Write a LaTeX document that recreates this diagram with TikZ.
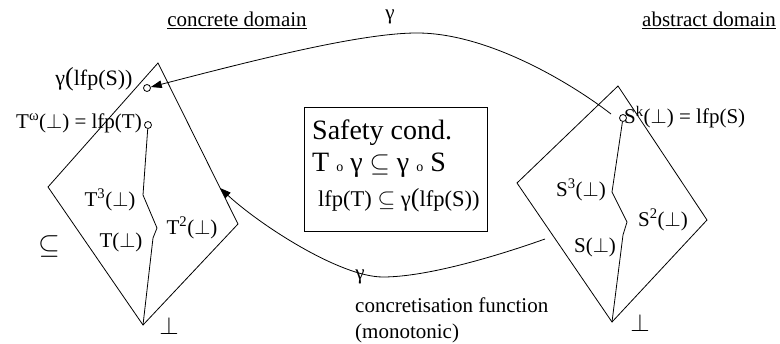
\documentclass[tikz,border=0pt]{standalone}
\usepackage{graphicx}
\usepackage{fontspec}
\setmainfont{Liberation Serif}
\usetikzlibrary{arrows.meta}
\newcommand\smallo{{\fontsize{14}{14}\selectfont o}}
\newcommand\sbe[1]{\scalebox{#1}{$\subseteq$}}
\newcommand\perpb[1]{\scalebox{#1}{$\bot$}}
\begin{document}
\begin{tikzpicture}[x=1pt,y=-1pt,
  lab/.style={font=\fontsize{21}{24}\selectfont, inner sep=0pt},
  big/.style={font=\fontsize{28}{32}\selectfont, inner sep=0pt},
  mid/.style={font=\fontsize{22.5}{26}\selectfont, inner sep=0pt},
  dot/.style={circle,draw,minimum size=7pt,inner sep=0pt,line width=0.8pt},
  ln/.style={line width=0.8pt},
  arr/.style={line width=0.8pt,-{Triangle[length=11pt,width=7.5pt]}}]
\useasboundingbox (0,0) rectangle (780,344);
% left diamond
\coordinate (LT) at (158,63);
\coordinate (LL) at (48,187);
\coordinate (LR) at (238,224);
\coordinate (LB) at (143,325);
\draw[ln] (LT) -- (LR) -- (LB) -- (LL) -- cycle;
\node[dot] (c1) at (147,88) {};
\node[dot] (c2) at (148,125) {};
\coordinate (l1) at (143,195);
\coordinate (l2) at (157,228);
\coordinate (l3) at (153,238);
\draw[ln] (c2) -- (l1) -- (l2) -- (l3) -- (LB);
% right diamond
\coordinate (RT) at (618,86);
\coordinate (RL) at (517,183);
\coordinate (RR) at (707,220);
\coordinate (RB) at (612,322);
\draw[ln] (RT) -- (RR) -- (RB) -- (RL) -- cycle;
\node[dot] (c3) at (623,118) {};
\coordinate (r1) at (612,192);
\coordinate (r2) at (627,222);
\coordinate (r3) at (623,235);
\draw[ln] (c3) -- (r1) -- (r2) -- (r3) -- (RB);
% top gamma arc
\coordinate (ts) at (611,114);
\coordinate (tp) at (417,33);
\draw[arr] (ts) .. controls (575,86) and (490,33) .. (tp)
  .. controls (360,33) and (251,61) .. (c1);
% bottom gamma arc
\coordinate (bs) at (545,239);
\coordinate (bp) at (383,277);
\coordinate (be) at (220,188);
\draw[arr] (bs) .. controls (500,255) and (428,277) .. (bp)
  .. controls (340,277) and (260,225) .. (be);
% safety box
\node[draw,ln,minimum width=183pt,minimum height=124pt,inner sep=0pt] (box) at (395.5,169) {};
\node[big,anchor=base west] (s1) at (312,140) {Safety cond.};
\node[big,anchor=base west] (s2) at (312,172) {T \smallo\ γ \sbe{1.05} γ \smallo\ S};
\node[mid,anchor=base west] (s3) at (318,207) {lfp(T) \sbe{1.1} γ{\fontsize{26}{26}\selectfont(}lfp(S))};
% labels
\node[lab] (conc) at (237,20) {\underline{concrete domain}};
\node[lab] (abs) at (709,20) {\underline{abstract domain}};
\node[lab] (gtop) at (390,17) {γ};
\node[lab] (gbot) at (360,277) {γ};
\node[lab,anchor=west] (cf) at (355,305) {concretisation function};
\node[lab,anchor=west] (mono) at (355,333) {(monotonic)};
\node[lab,font=\fontsize{22}{24}\selectfont] (gl) at (94,79) {γ{\fontsize{26}{26}\selectfont(}lfp(S))};
\node[lab,anchor=east] (Tw) at (142,123) {T\textsuperscript{ω}($\bot$) = lfp(T)};
\node[lab] (T3) at (110,200) {T\textsuperscript{3}($\bot$)};
\node[lab] (T1) at (121,242) {T($\bot$)};
\node[lab] (T2) at (192,228) {T\textsuperscript{2}($\bot$)};
\node[lab] (sub) at (49,247) {\sbe{1.35}};
\node[lab] (botL) at (169,326) {\perpb{1.2}};
\node[lab,anchor=west] (Sk) at (624,117) {S\textsuperscript{k}($\bot$) = lfp(S)};
\node[lab] (S3) at (581,190) {S\textsuperscript{3}($\bot$)};
\node[lab] (S2) at (663,220) {S\textsuperscript{2}($\bot$)};
\node[lab] (S1) at (595,247) {S($\bot$)};
\node[lab] (botR) at (640,323) {\perpb{1.2}};
\end{tikzpicture}
\end{document}
